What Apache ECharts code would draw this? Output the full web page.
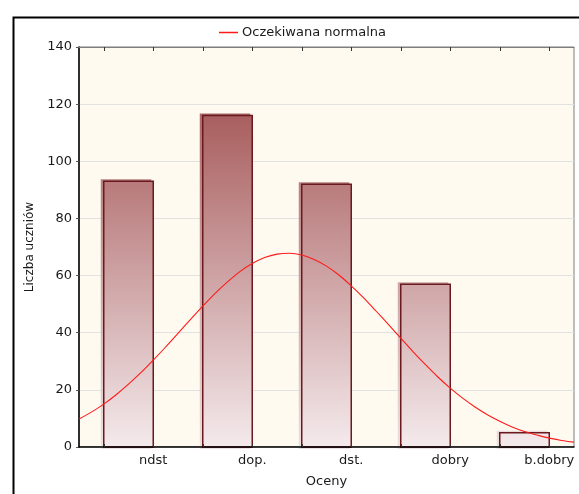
<!DOCTYPE html>
<html>
<head>
<meta charset="utf-8">
<script src="https://cdn.jsdelivr.net/npm/echarts@6/dist/echarts.min.js"></script>
<style>
  html, body { margin: 0; padding: 0; background: #ffffff; }
  #chart { width: 579px; height: 494px; }
</style>
</head>
<body>
<div id="chart"></div>
<script>
// Grade categories and number of pupils in each
const categories = ['ndst', 'dop.', 'dst.', 'dobry', 'b.dobry'];
const counts = [93, 116, 92, 57, 5];

// Expected normal curve, sampled along the horizontal scale
const curveX = [-0.5, -0.25, 0, 0.25, 0.5, 0.75, 1, 1.25, 1.5, 1.75, 2, 2.25, 2.5, 2.75, 3, 3.25, 3.5, 3.75,
                4, 4.25, 4.5, 4.75, 5, 5.25, 5.5, 5.75, 6, 6.25, 6.5, 6.75, 7, 7.25, 7.5, 7.75, 8, 8.25, 8.5, 8.75, 9, 9.25, 9.5];
const curveY = [9.8, 12.2, 15.0, 18.3, 22.0, 26.0, 30.4, 35.0, 39.8, 44.6, 49.3, 53.8, 57.8, 61.4, 64.2, 66.3, 67.5, 67.8,
                67.2, 65.6, 63.3, 60.2, 56.4, 52.2, 47.6, 42.9, 38.1, 33.3, 28.8, 24.5, 20.6, 17.1, 14.0, 11.3, 9.0, 7.0, 5.4, 4.2, 3.1, 2.3, 1.7];

// Y axis ticks
const yMin = 0, yMax = 140, yStep = 20;

const FONT = 'DejaVu Sans, Verdana, sans-serif';
const TEXT = '#1a1a1a';

// Each grade occupies two units on the horizontal scale: a bar [2i, 2i+1], then a gap.
const barRows = counts.map((v, i) => [2 * i, 2 * i + 1, v]);
const curveData = curveX.map((x, i) => [x, curveY[i]]);

// Tick slots 0..9 on the category axes; grade names sit on the right edge of each bar
const slotLabels = [];
for (let k = 0; k < 10; k++) slotLabels.push(k % 2 === 1 ? categories[(k - 1) / 2] : '');

const chart = echarts.init(document.getElementById('chart'), null, { renderer: 'canvas' });

function gradient(api, stops) {
  const top = api.coord([0, yMax])[1];
  const bottom = api.coord([0, yMin])[1];
  return {
    type: 'linear', x: 0, y: top, x2: 0, y2: bottom, global: true,
    colorStops: stops
  };
}

function renderBar(params, api) {
  const p0 = api.coord([api.value(0), api.value(2)]);
  const p1 = api.coord([api.value(1), 0]);
  const x = p0[0], y = p0[1], w = p1[0] - p0[0], h = p1[1] - p0[1];
  return {
    type: 'group',
    children: [
      {
        type: 'rect',
        shape: { x: x - 3, y: y - 2, width: w + 1, height: h + 4 },
        style: {
          fill: gradient(api, [
            { offset: 0, color: '#8a3434' },
            { offset: 1, color: '#eadbdd' }
          ]),
          opacity: 0.85
        }
      },
      {
        type: 'rect',
        shape: { x: x, y: y, width: w, height: h },
        style: {
          fill: gradient(api, [
            { offset: 0, color: '#9a4242' },
            { offset: 1, color: '#f4eaec' }
          ]),
          stroke: '#6a1a1e',
          lineWidth: 1.5
        }
      }
    ]
  };
}

const option = {
  backgroundColor: '#ffffff',
  animation: false,
  textStyle: { fontFamily: FONT },
  graphic: [
    {
      type: 'rect',
      left: 11, top: 15,
      shape: { x: 0, y: 0, width: 620, height: 560 },
      style: { fill: 'none', stroke: '#000000', lineWidth: 2 },
      z: 100
    }
  ],
  legend: {
    left: 214, top: 21,
    itemWidth: 19, itemHeight: 1.5, itemGap: 6,
    icon: 'rect',
    data: [{ name: 'Oczekiwana normalna', itemStyle: { color: '#ff1a1a' } }],
    textStyle: { fontFamily: FONT, fontSize: 13, color: TEXT, padding: [0, 0, 0, -1] }
  },
  grid: {
    left: 79, top: 47, width: 495, height: 400,
    show: true, backgroundColor: '#fffaf0',
    borderColor: '#7d7d7d', borderWidth: 1
  },
  xAxis: [
    {
      type: 'value', min: -0.5, max: 9.5, show: false
    },
    {
      type: 'category', position: 'bottom', data: slotLabels,
      boundaryGap: true,
      axisLine: { show: true, onZero: false, lineStyle: { color: '#000000', width: 1.5 } },
      axisTick: { show: true, inside: true, length: 3, alignWithLabel: true, interval: 0, lineStyle: { color: '#333' } },
      axisLabel: { interval: 0, margin: 7, fontFamily: FONT, fontSize: 13, color: TEXT },
      splitLine: { show: false },
      name: 'Oceny', nameLocation: 'middle', nameGap: 28,
      nameTextStyle: { fontFamily: FONT, fontSize: 13, color: TEXT },
      z: 10
    },
    {
      type: 'category', position: 'top', data: slotLabels,
      boundaryGap: true,
      axisLine: { show: true, onZero: false, lineStyle: { color: '#7d7d7d', width: 1 } },
      axisTick: { show: true, inside: true, length: 4, alignWithLabel: true, interval: 0, lineStyle: { color: '#333' } },
      axisLabel: { show: false },
      splitLine: { show: false }
    }
  ],
  yAxis: {
    type: 'value', min: yMin, max: yMax, interval: yStep,
    axisLine: { show: true, onZero: false, lineStyle: { color: '#000000', width: 1.5 } },
    axisTick: { show: true, inside: false, length: 3, lineStyle: { color: '#555' } },
    axisLabel: { margin: 7, fontFamily: FONT, fontSize: 13, color: TEXT },
    splitLine: { show: true, lineStyle: { color: '#e2e2e2', width: 1 } },
    name: 'Liczba uczniów', nameLocation: 'middle', nameGap: 39,
    nameTextStyle: { fontFamily: FONT, fontSize: 12, color: TEXT }
  },
  series: [
    {
      name: 'Liczba uczniów',
      type: 'custom',
      xAxisIndex: 0,
      renderItem: renderBar,
      encode: { x: [0, 1], y: 2 },
      data: barRows,
      z: 2
    },
    {
      name: 'Oczekiwana normalna',
      type: 'line',
      xAxisIndex: 0,
      data: curveData,
      smooth: 0.3,
      showSymbol: false,
      symbol: 'none',
      lineStyle: { color: '#ff1a1a', width: 1.1 },
      itemStyle: { color: '#ff1a1a' },
      z: 5
    }
  ]
};

chart.setOption(option);
</script>
</body>
</html>
